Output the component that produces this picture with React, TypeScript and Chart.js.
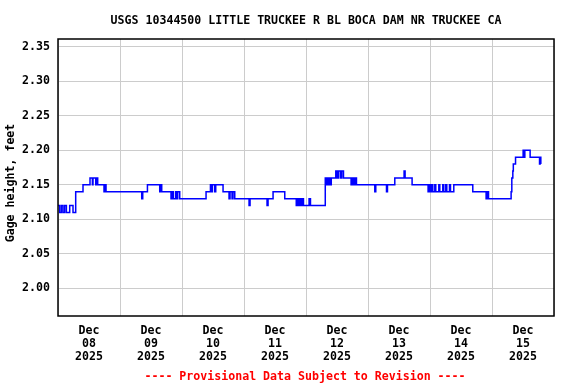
import React, { useEffect, useRef } from 'react';
import { Chart, registerables } from 'chart.js';

Chart.register(...registerables);

const TITLE = 'USGS 10344500 LITTLE TRUCKEE R BL BOCA DAM NR TRUCKEE CA';
const Y_TITLE = 'Gage height, feet';
const FOOTER = '---- Provisional Data Subject to Revision ----';
const MONTH = 'Dec';
const YEAR = '2025';
const DAY_LABELS = ['08', '09', '10', '11', '12', '13', '14', '15'];
const Y_TICKS = [2.0, 2.05, 2.1, 2.15, 2.2, 2.25, 2.3, 2.35];

// hours since Dec 08 2025 00:00 at which the gage height changes
const HOURS = [
  0, 0.66, 1.32, 1.94, 2.59, 3.25, 4.53, 5.81, 6.85, 9.68,
  12.39, 13.32, 13.55, 14.6, 14.98, 15.37, 17.81, 18.2, 18.59, 32.41,
  32.8, 34.62, 39.38, 39.77, 40.15, 43.75, 44.14, 44.68, 45.57, 45.96,
  46.35, 47.12, 57.31, 59.01, 59.4, 59.78, 60.67, 61.06, 63.89, 66.21,
  66.6, 67.37, 67.76, 68.42, 73.96, 74.34, 80.92, 81.31, 83.25, 87.78,
  92.23, 92.62, 93.2, 93.59, 94.17, 94.55, 95.02, 97.19, 97.73, 103.46,
  104.04, 104.62, 105.2, 105.78, 107.53, 108.11, 108.69, 109.46, 109.85, 110.51,
  113.45, 113.92, 114.5, 115.08, 115.54, 122.63, 123.01, 127.16, 127.54, 130.37,
  133.97, 134.36, 137.07, 143.26, 143.73, 144.12, 144.7, 145.08, 145.86, 146.24,
  147.41, 147.79, 148.95, 149.34, 150.11, 150.5, 151.54, 151.93, 153.21, 160.56,
  165.72, 166.18, 166.65, 175.4, 175.67, 176.06, 176.25, 177.11, 180.05, 180.44,
  180.71, 182.76, 186.4, 186.63, 186.9,
];
const HEIGHTS = [
  2.12, 2.11, 2.12, 2.11, 2.12, 2.11, 2.12, 2.11, 2.14, 2.15,
  2.16, 2.15, 2.16, 2.15, 2.16, 2.15, 2.14, 2.15, 2.14, 2.13,
  2.14, 2.15, 2.14, 2.15, 2.14, 2.13, 2.14, 2.13, 2.14, 2.13,
  2.14, 2.13, 2.14, 2.15, 2.14, 2.15, 2.14, 2.15, 2.14, 2.13,
  2.14, 2.13, 2.14, 2.13, 2.12, 2.13, 2.12, 2.13, 2.14, 2.13,
  2.12, 2.13, 2.12, 2.13, 2.12, 2.13, 2.12, 2.13, 2.12, 2.16,
  2.15, 2.16, 2.15, 2.16, 2.17, 2.16, 2.17, 2.16, 2.17, 2.16,
  2.15, 2.16, 2.15, 2.16, 2.15, 2.14, 2.15, 2.14, 2.15, 2.16,
  2.17, 2.16, 2.15, 2.14, 2.15, 2.14, 2.15, 2.14, 2.15, 2.14,
  2.15, 2.14, 2.15, 2.14, 2.15, 2.14, 2.15, 2.14, 2.15, 2.14,
  2.13, 2.14, 2.13, 2.14, 2.16, 2.17, 2.18, 2.19, 2.2, 2.19,
  2.2, 2.19, 2.18, 2.19, 2.18,
];

const FONT_FAMILY = '"DejaVu Sans Mono", "Liberation Mono", monospace';
const FONT_SIZE = 11.6;

const textPlugin = {
  id: 'usgsText',
  afterDraw(chart: any) {
    const { ctx, chartArea } = chart;
    ctx.save();
    // frame
    ctx.strokeStyle = '#000000';
    ctx.lineWidth = 1.5;
    ctx.strokeRect(chartArea.left, chartArea.top, chartArea.right - chartArea.left, chartArea.bottom - chartArea.top);
    ctx.font = `bold ${FONT_SIZE}px ${FONT_FAMILY}`;
    ctx.textAlign = 'center';
    ctx.textBaseline = 'middle';
    ctx.fillStyle = '#000000';
    const cx = (chartArea.left + chartArea.right) / 2;
    ctx.fillText(TITLE, cx, 21);
    ctx.fillStyle = '#ff0000';
    ctx.fillText(FOOTER, cx - 1, 377);
    ctx.fillStyle = '#000000';
    ctx.translate(11, 183);
    ctx.rotate(-Math.PI / 2);
    ctx.fillText(Y_TITLE, 0, 0);
    ctx.restore();
  },
};

export default function App() {
  const ref = useRef<HTMLCanvasElement | null>(null);
  useEffect(() => {
    document.body.style.margin = '0';
    const canvas = ref.current;
    if (!canvas) return;
    const tickFont = { family: FONT_FAMILY, weight: 'bold' as const, size: FONT_SIZE, lineHeight: 1.15 };
    const chart = new Chart(canvas, {
      type: 'line',
      data: {
        datasets: [
          {
            data: HOURS.map((h, i) => ({ x: h, y: HEIGHTS[i] })),
            borderColor: '#0000ff',
            borderWidth: 1.5,
            pointRadius: 0,
            stepped: 'before',
            fill: false,
          },
        ],
      },
      options: {
        animation: false,
        responsive: false,
        maintainAspectRatio: false,
        events: [],
        layout: { padding: { left: 0, top: 39, right: 22, bottom: 0 } },
        plugins: { legend: { display: false }, tooltip: { enabled: false }, title: { display: false } },
        scales: {
          x: {
            type: 'linear',
            min: 0,
            max: 192,
            afterBuildTicks: (s: any) => {
              s.ticks = DAY_LABELS.map((_, i) => ({ value: 12 + 24 * i }));
            },
            afterFit: (s: any) => {
              s.height = 68;
            },
            grid: { offset: true, color: '#cccccc', lineWidth: 1, drawTicks: false },
            border: { display: false },
            ticks: {
              autoSkip: false,
              maxRotation: 0,
              minRotation: 0,
              padding: 8,
              color: '#000000',
              font: tickFont,
              callback: (_v: any, i: number) => [MONTH, DAY_LABELS[i], YEAR],
            },
          },
          y: {
            type: 'linear',
            min: 1.96,
            max: 2.3612,
            afterBuildTicks: (s: any) => {
              s.ticks = Y_TICKS.map((v) => ({ value: v }));
            },
            afterFit: (s: any) => {
              s.width = 58;
            },
            grid: { color: '#cccccc', lineWidth: 1, drawTicks: false },
            border: { display: false },
            ticks: {
              padding: 8,
              color: '#000000',
              font: tickFont,
              callback: (v: any) => Number(v).toFixed(2),
            },
          },
        },
      },
      plugins: [textPlugin],
    });
    return () => chart.destroy();
  }, []);
  return (
    <div style={{ width: 576, height: 384, background: '#ffffff' }}>
      <canvas ref={ref} width={576} height={384} style={{ display: 'block' }} />
    </div>
  );
}
